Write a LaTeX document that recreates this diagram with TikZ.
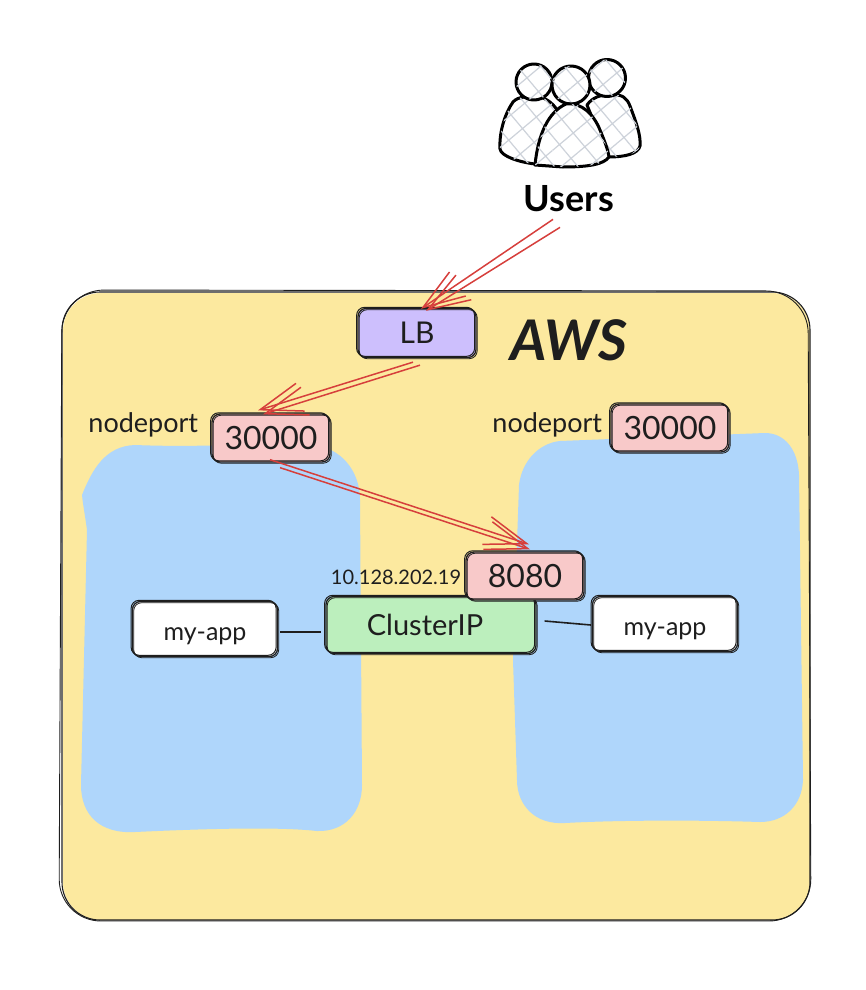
\documentclass[tikz,border=0pt]{standalone}
\usepackage{fontspec}
\setmainfont{Lato}
\usetikzlibrary{positioning, calc, arrows.meta, patterns.meta}

\definecolor{awsyellow}{HTML}{FCE99F}
\definecolor{nodeblue}{HTML}{AFD6FB}
\definecolor{lbpurple}{HTML}{CDBFFD}
\definecolor{portpink}{HTML}{F8C9C9}
\definecolor{ipgreen}{HTML}{BCEFBD}
\definecolor{wirered}{HTML}{D63F3C}
\definecolor{inkblack}{HTML}{1E1E1E}
\definecolor{hatchgrey}{HTML}{CDD2DA}

\tikzset{
  sketchbox/.style={draw=inkblack, line width=1.3pt, rounded corners=8pt, inner sep=0pt, text=inkblack,
    postaction={draw=inkblack, line width=1pt, transform canvas={xshift=-1.4pt, yshift=1.2pt}},
    postaction={draw=inkblack, line width=0.8pt, transform canvas={xshift=1.2pt, yshift=-1.2pt}}},
  portbox/.style={sketchbox, fill=portpink, minimum width=118pt, minimum height=48pt, text depth=0pt, font=\fontsize{32}{34}\selectfont},
  appbox/.style={sketchbox, fill=white, minimum width=145pt, minimum height=55pt, text height=22pt, text depth=0pt, font=\fontsize{25}{28}\selectfont},
  portlabel/.style={text=inkblack, inner sep=0pt, font=\fontsize{27}{30}\selectfont},
  wire/.style={draw=wirered, line width=1.5pt, -{Straight Barb[length=42pt,width=29pt]}},
  person/.style={draw=black, line width=3pt, fill=white, line join=round,
    postaction={pattern={Hatch[angle=40,distance=18pt,line width=1.2pt]}, pattern color=hatchgrey}},
  link/.style={draw=inkblack, line width=1.6pt},
}

\begin{document}
\begin{tikzpicture}[x=1pt, y=-1pt]
  \useasboundingbox (0,0) rectangle (866,990);

  % account
  \fill[awsyellow, rounded corners=38pt] (63,293) rectangle (810,920);
  \draw[inkblack, line width=1.1pt, rounded corners=38pt] (62,292) rectangle (810,920);
  \draw[inkblack, line width=0.9pt, rounded corners=42pt] (62,290) -- (59,921) -- (811,921) -- (808,291) -- cycle;

  % the two worker blobs
  \fill[nodeblue] (135,445) .. controls (210,448) and (260,442) .. (312,445)
    .. controls (340,447) and (360,470) .. (360,500)
    -- (362,785) .. controls (362,812) and (345,832) .. (317,831)
    .. controls (290,828) and (240,827) .. (135,832)
    .. controls (100,834) and (81,815) .. (81,785)
    -- (87,530) .. controls (85,515) and (83,505) .. (82,495) .. controls (92,470) and (105,446) .. (135,445) -- cycle;
  \fill[nodeblue] (560,441) -- (765,433) .. controls (785,433) and (798,450) .. (799,475)
    -- (803,780) .. controls (802,805) and (785,822) .. (760,822)
    .. controls (700,820) and (620,820) .. (565,823) .. controls (535,825) and (517,805) .. (517,780)
    -- (513,660) -- (519,485) .. controls (522,460) and (540,443) .. (560,441) -- cycle;

  % users
  \draw[person] (535,164) .. controls (518,162) and (501,156) .. (500,149)
    .. controls (499,130) and (506,112) .. (513,102) .. controls (518,96) and (530,96) .. (540,97)
    .. controls (548,99) and (554,105) .. (558,111) -- cycle;
  \draw[person] (587,105) .. controls (592,98) and (600,94) .. (612,95)
    .. controls (622,94) and (627,98) .. (630,106) .. controls (636,122) and (641,135) .. (640,146)
    .. controls (638,154) and (625,157) .. (608,157) -- cycle;
  \draw[person] (534,82) circle[radius=18pt];
  \draw[person] (607,78) circle[radius=18.5pt];
  \draw[person] (571,85) circle[radius=19pt];
  \draw[person] (535,165) .. controls (538,135) and (548,112) .. (566,104)
    .. controls (582,102) and (594,115) .. (600,130) .. controls (605,142) and (608,150) .. (609,157)
    .. controls (604,164) and (590,167) .. (563,167) -- cycle;
  \node[text=black, font=\fontsize{36}{38}\bfseries\selectfont, inner sep=0pt] (users) at (569,199) {Users};

  \node[sketchbox, fill=lbpurple, minimum width=118pt, minimum height=49pt, font=\fontsize{30}{32}\selectfont] (lb) at (417,333) {LB};
  \node[text=inkblack, inner sep=0pt, font=\fontsize{56}{60}\bfseries\itshape\selectfont] (aws) at (569,340) {AWS};

  \node[portbox] (portleft) at (271,438) {30000};
  \node[portbox] (portright) at (670,428) {30000};
  \node[portlabel, left=13pt of portleft, yshift=13pt] (nodeleft) {nodeport};
  \node[portlabel, left=8pt of portright, yshift=3pt] (noderight) {nodeport};

  \node[sketchbox, fill=ipgreen, minimum width=210pt, minimum height=57pt, text depth=0pt, font=\fontsize{29}{31}\selectfont] (cluster) at (431,625) {\hspace*{-12pt}ClusterIP};
  \node[portbox] (svcport) at (525,576) {8080};
  \node[text=inkblack, inner sep=0pt, font=\fontsize{20}{22}\selectfont, left=4pt of svcport, yshift=-1pt] (svcip) {10.128.202.19};

  \node[appbox] (appleft) at (205,629) {my-app};
  \node[appbox] (appright) at (665,624) {my-app};

  % connectors
  \draw[link] ([xshift=2pt,yshift=-3pt]appleft.east) -- ([xshift=-4pt,yshift=-7pt]cluster.west);
  \draw[link] ([xshift=8pt,yshift=4pt]cluster.east) -- ([xshift=-1pt,yshift=-1pt]appright.west);

  \draw[wire] ([xshift=-16pt,yshift=-7pt]users.south) -- ([xshift=4pt,yshift=-1pt]lb.north);
  \draw[wire] ([xshift=-9pt,yshift=-15pt]users.south) -- ([xshift=9pt,yshift=-3pt]lb.north);
  \draw[wire] ([xshift=-4pt,yshift=-4pt]lb.south) -- ([xshift=-13pt,yshift=3pt]portleft.north);
  \draw[wire] ([xshift=3pt,yshift=-7pt]lb.south) -- ([xshift=-8pt,yshift=-1pt]portleft.north);
  \draw[wire] ([xshift=-1pt,yshift=3pt]portleft.south) -- ([xshift=4pt,yshift=7pt]svcport.north);
  \draw[wire] ([xshift=9pt,yshift=-5pt]portleft.south) -- ([xshift=5pt,yshift=2pt]svcport.north);
\end{tikzpicture}
\end{document}
